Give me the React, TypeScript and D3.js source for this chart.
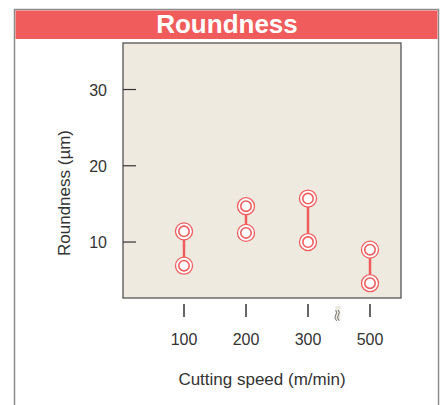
import { useRef, useEffect } from "react";
import * as d3 from "d3";

const speeds = ["100", "200", "300", "500"];
const highValues = [11.4, 14.7, 15.7, 9.0];
const lowValues = [6.9, 11.2, 10.0, 4.6];
const yTicks = [10, 20, 30];

const W = 446;
const H = 405;
const P = { left: 123, right: 401, top: 43, bottom: 298 };
const RED = "#f05c5c";
const FONT = "'Liberation Sans', Arial, sans-serif";

export default function App() {
  const svgRef = useRef<SVGSVGElement>(null);

  useEffect(() => {
    if (!svgRef.current) return;
    const svg = d3.select(svgRef.current);
    svg.selectAll("*").remove();

    // outer frame + title bar
    svg.append("rect")
      .attr("x", 14.5).attr("y", 9.5).attr("width", 424).attr("height", 420)
      .attr("fill", "#fff").attr("stroke", "#8c8c8c").attr("stroke-width", 1.5);
    svg.append("rect")
      .attr("x", 15.5).attr("y", 10.5).attr("width", 422).attr("height", 28.5)
      .attr("fill", RED);
    svg.append("text")
      .attr("x", 227).attr("y", 33)
      .attr("text-anchor", "middle")
      .attr("font-family", FONT).attr("font-weight", "bold").attr("font-size", 26)
      .attr("fill", "#fff")
      .text("Roundness");

    const y = d3.scaleLinear().domain([2.66, 36.1]).range([P.bottom, P.top]);
    const x = d3.scalePoint<string>().domain(speeds).range([184, 370]);

    // plot background
    svg.append("rect")
      .attr("x", P.left).attr("y", P.top)
      .attr("width", P.right - P.left).attr("height", P.bottom - P.top)
      .attr("fill", "#eeeae0").attr("stroke", "#555").attr("stroke-width", 1.3);

    // y ticks (inward)
    const yg = svg.append("g");
    yg.selectAll("line").data(yTicks).join("line")
      .attr("x1", P.left).attr("x2", P.left + 13)
      .attr("y1", d => y(d)).attr("y2", d => y(d))
      .attr("stroke", "#333").attr("stroke-width", 1.2);
    yg.selectAll("text").data(yTicks).join("text")
      .attr("x", 107).attr("y", d => y(d) + 6)
      .attr("text-anchor", "end")
      .attr("font-family", FONT).attr("font-size", 16).attr("fill", "#333")
      .text(d => d);

    // x ticks below the plot
    const xg = svg.append("g");
    xg.selectAll("line").data(speeds).join("line")
      .attr("x1", d => x(d)!).attr("x2", d => x(d)!)
      .attr("y1", 304).attr("y2", 317)
      .attr("stroke", "#333").attr("stroke-width", 1.5);
    xg.selectAll("text").data(speeds).join("text")
      .attr("x", d => x(d)!).attr("y", 345)
      .attr("text-anchor", "middle")
      .attr("font-family", FONT).attr("font-size", 16).attr("fill", "#333")
      .text(d => d);

    // axis break between 300 and 500
    const bx = (x("300")! + x("500")!) / 2 - 1;
    svg.append("rect")
      .attr("x", bx - 2.5).attr("y", 306).attr("width", 5).attr("height", 14)
      .attr("fill", "#eeeae0");
    [-1.3, 1.3].forEach(dx => {
      svg.append("path")
        .attr("d", `M${bx + dx - 1},${310} q2,3 0,5 q-2,3 1,6`)
        .attr("fill", "none").attr("stroke", "#555").attr("stroke-width", 0.8);
    });

    // axis titles
    svg.append("text")
      .attr("x", 262).attr("y", 385)
      .attr("text-anchor", "middle")
      .attr("font-family", FONT).attr("font-size", 17).attr("fill", "#333")
      .text("Cutting speed (m/min)");
    svg.append("text")
      .attr("transform", `translate(70,${193}) rotate(-90)`)
      .attr("text-anchor", "middle")
      .attr("font-family", FONT).attr("font-size", 17).attr("fill", "#333")
      .text("Roundness (µm)");

    // range lines and markers
    const rows = speeds.map((s, i) => ({ s, hi: highValues[i], lo: lowValues[i] }));
    svg.append("g").selectAll("line").data(rows).join("line")
      .attr("x1", d => x(d.s)!).attr("x2", d => x(d.s)!)
      .attr("y1", d => y(d.hi)).attr("y2", d => y(d.lo))
      .attr("stroke", RED).attr("stroke-width", 2.5);

    const pts = rows.flatMap(d => [{ s: d.s, v: d.hi }, { s: d.s, v: d.lo }]);
    const mg = svg.append("g");
    mg.selectAll("circle.outer").data(pts).join("circle")
      .attr("class", "outer")
      .attr("cx", d => x(d.s)!).attr("cy", d => y(d.v)).attr("r", 8.5)
      .attr("fill", "#fff").attr("stroke", RED).attr("stroke-width", 1.3);
    mg.selectAll("circle.inner").data(pts).join("circle")
      .attr("class", "inner")
      .attr("cx", d => x(d.s)!).attr("cy", d => y(d.v)).attr("r", 5.2)
      .attr("fill", "#fff").attr("stroke", RED).attr("stroke-width", 1.6);
  }, []);

  return (
    <svg ref={svgRef} width={W} height={H}
      style={{ position: "absolute", left: 0, top: 0 }} />
  );
}
